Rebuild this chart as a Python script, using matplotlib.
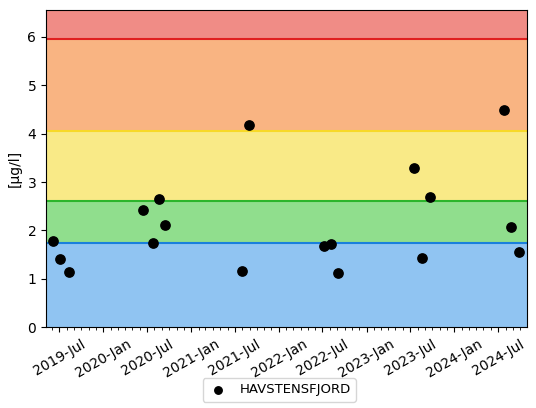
import numpy as np
import pandas as pd
import matplotlib
matplotlib.use("Agg")
import matplotlib.pyplot as plt
import matplotlib.dates as mdates

# målinger HAVSTENSFJORD
datoer = pd.to_datetime([
    "2019-06-07", "2019-07-05", "2019-08-10",
    "2020-06-14", "2020-07-24", "2020-08-21", "2020-09-15",
    "2021-07-31", "2021-08-29",
    "2022-07-08", "2022-08-07", "2022-09-04",
    "2023-07-17", "2023-08-18", "2023-09-23",
    "2024-07-27", "2024-08-23", "2024-09-28",
])
verdier = [1.78, 1.40, 1.14,
           2.42, 1.73, 2.65, 2.12,
           1.16, 4.17,
           1.68, 1.71, 1.11,
           3.29, 1.44, 2.69,
           4.49, 2.08, 1.56]

# klassegrenser
grenser = [0, 1.75, 2.6, 4.05, 5.95, 6.55]
fyll = ["#90c4f2", "#90de8d", "#f9ea87", "#f9b482", "#f08c86"]
linjefarger = ["#1a7fdc", "#2cb52c", "#f7d928", "#e02020"]

fig, ax = plt.subplots(figsize=(5.36, 4.08), dpi=100)
fig.subplots_adjust(left=0.086, right=0.983, top=0.975, bottom=0.198)

for i in range(len(fyll)):
    ax.axhspan(grenser[i], grenser[i + 1], color=fyll[i], lw=0, zorder=0)
for i, c in enumerate(linjefarger):
    ax.axhline(grenser[i + 1], color=c, lw=1.5, zorder=1)

ax.scatter(datoer, verdier, color="k", s=45, zorder=3, label="HAVSTENSFJORD")

ax.set_ylim(0, 6.55)
ax.set_xlim(pd.Timestamp("2019-05-08"), pd.Timestamp("2024-10-29"))
ax.xaxis.set_major_locator(mdates.MonthLocator(bymonth=[1, 7]))
ax.xaxis.set_minor_locator(mdates.MonthLocator())
ax.xaxis.set_major_formatter(mdates.DateFormatter("%Y-%b"))
plt.setp(ax.get_xticklabels(), rotation=30, ha="center")
ax.set_ylabel("[µg/l]")

ax.legend(loc="upper center", bbox_to_anchor=(0.485, -0.14), frameon=True,
          markerscale=0.8, handletextpad=0.8, handlelength=1.6, fontsize=9.5)

fig.savefig("out.png", dpi=100)
